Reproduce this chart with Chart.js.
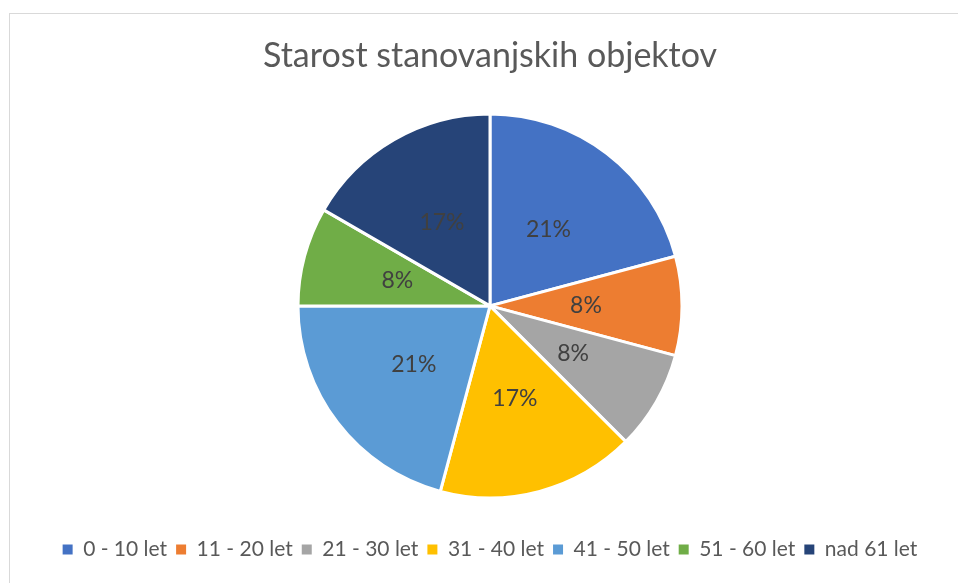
<!DOCTYPE html>
<html>
<head>
<meta charset="utf-8">
<script src="https://cdn.jsdelivr.net/npm/chart.js"></script>
<style>
  html, body { margin: 0; padding: 0; background: #fff; }
  .wrap { position: relative; width: 958px; height: 583px; overflow: hidden; }
  .frame { position: absolute; left: 9px; top: 13px; width: 1000px; height: 1000px; border: 1px solid #d9d9d9; box-sizing: border-box; }
  canvas { position: absolute; left: 0; top: 0; }
</style>
</head>
<body>
<div class="wrap">
  <div class="frame"></div>
  <canvas id="chart" width="958" height="583"></canvas>
</div>
<script>
const titleText = "Starost stanovanjskih objektov";
const labels = ["0 - 10 let", "11 - 20 let", "21 - 30 let", "31 - 40 let", "41 - 50 let", "51 - 60 let", "nad 61 let"];
const values = [5, 2, 2, 4, 5, 2, 4];
const colors = ["#4472C4", "#ED7D31", "#A5A5A5", "#FFC000", "#5B9BD5", "#70AD47", "#264478"];

const FONT = "Lato, 'Open Sans', sans-serif";

// percentage labels in the middle of each slice
const sliceLabels = {
  id: "sliceLabels",
  afterDatasetsDraw(chart) {
    const ctx = chart.ctx;
    const meta = chart.getDatasetMeta(0);
    const data = chart.data.datasets[0].data;
    const total = data.reduce((a, b) => a + b, 0);
    ctx.save();
    ctx.font = "23px " + FONT;
    ctx.fillStyle = "#404040";
    ctx.textAlign = "center";
    ctx.textBaseline = "middle";
    meta.data.forEach((arc, i) => {
      const pos = arc.tooltipPosition();
      ctx.fillText(Math.round(data[i] / total * 100) + "%", pos.x, pos.y);
    });
    ctx.restore();
  }
};

new Chart(document.getElementById("chart"), {
  type: "pie",
  data: {
    labels: labels,
    datasets: [
      {
        data: values,
        backgroundColor: colors,
        borderColor: "#ffffff",
        borderWidth: 3,
        radius: 192,
      },
    ],
  },
  options: {
    responsive: false,
    animation: false,
    layout: {
      padding: { left: 22, right: 0, top: 0, bottom: 13 },
    },
    plugins: {
      tooltip: { enabled: false },
      title: {
        display: true,
        text: titleText,
        color: "#595959",
        font: { family: FONT, size: 34, weight: "normal" },
        padding: { top: 36, bottom: 5 },
      },
      legend: {
        position: "bottom",
        labels: {
          color: "#595959",
          font: { family: FONT, size: 21 },
          boxWidth: 10,
          boxHeight: 10,
          padding: 9,
          // no white outline on the legend squares
          generateLabels(chart) {
            const items = Chart.overrides.pie.plugins.legend.labels.generateLabels(chart);
            items.forEach((item) => {
              item.lineWidth = 0;
              item.strokeStyle = item.fillStyle;
            });
            return items;
          },
        },
      },
    },
  },
  plugins: [sliceLabels],
});
</script>
</body>
</html>
